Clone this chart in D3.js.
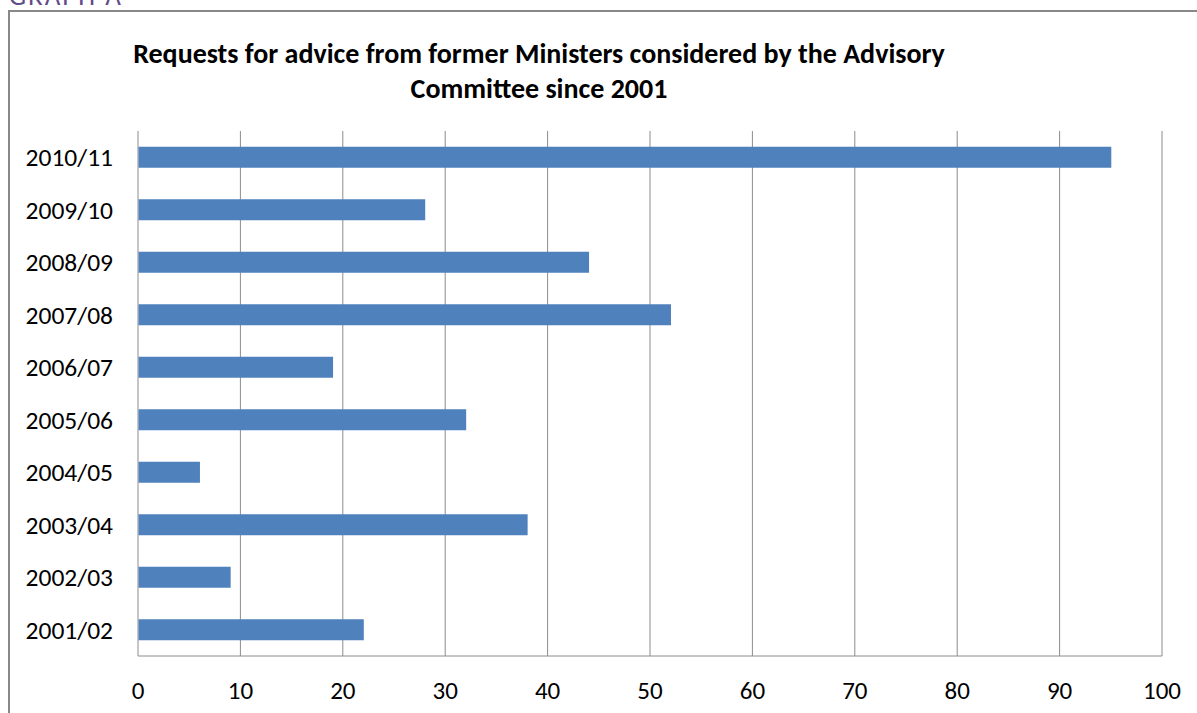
<!DOCTYPE html>
<html>
<head>
<meta charset="utf-8">
<script src="https://cdn.jsdelivr.net/npm/d3@7"></script>
<style>
  body { margin: 0; background: #fff; }
  svg text { font-family: Carlito, "Liberation Sans Narrow", "Liberation Sans", sans-serif; fill: #000; }
</style>
</head>
<body>
<div id="chart"></div>
<script>
// Data
const years = ['2010/11', '2009/10', '2008/09', '2007/08', '2006/07',
               '2005/06', '2004/05', '2003/04', '2002/03', '2001/02'];
const requests = [95, 28, 44, 52, 19, 32, 6, 38, 9, 22];
const xTicks = [0, 10, 20, 30, 40, 50, 60, 70, 80, 90, 100];
const titleLines = ['Requests for advice from former Ministers considered by the Advisory',
                    'Committee since 2001'];

const W = 1197, H = 713;
const margin = {top: 131, right: 35, bottom: 57, left: 138};
const colors = {bar: '#4F81BD', grid: '#8C8C8C', frame: '#888888'};

const svg = d3.select('#chart').append('svg')
    .attr('width', W)
    .attr('height', H);

// Caption above the frame, mostly cut off by the top edge as in the original
svg.append('text')
    .attr('x', 9)
    .attr('y', 5)
    .style('font-size', '27px')
    .style('letter-spacing', '2px')
    .style('fill', '#5F4B8B')
    .text('GRAPH A');

// Outer frame (runs off the right and bottom edges)
svg.append('rect')
    .attr('x', 9)
    .attr('y', 11)
    .attr('width', W + 20)
    .attr('height', H + 20)
    .attr('fill', 'none')
    .attr('stroke', colors.frame)
    .attr('stroke-width', 2);

const x = d3.scaleLinear()
    .domain([0, 100])
    .range([margin.left, W - margin.right]);

const y = d3.scaleBand()
    .domain(years)
    .range([margin.top, H - margin.bottom])
    .paddingInner(0.6)
    .paddingOuter(0.3);

// Vertical gridlines
svg.append('g')
    .selectAll('line')
    .data(xTicks)
    .join('line')
    .attr('x1', d => x(d))
    .attr('x2', d => x(d))
    .attr('y1', margin.top)
    .attr('y2', H - margin.bottom)
    .attr('stroke', colors.grid)
    .attr('stroke-width', 1);

// Bottom axis line
svg.append('line')
    .attr('x1', x(0))
    .attr('x2', x(100))
    .attr('y1', H - margin.bottom)
    .attr('y2', H - margin.bottom)
    .attr('stroke', colors.grid);

// Bars
svg.append('g')
    .selectAll('rect')
    .data(years)
    .join('rect')
    .attr('x', x(0) + 0.5)
    .attr('y', d => y(d))
    .attr('width', (d, i) => x(requests[i]) - x(0))
    .attr('height', y.bandwidth())
    .attr('fill', colors.bar);

// Category labels
svg.append('g')
    .selectAll('text')
    .data(years)
    .join('text')
    .attr('x', 113)
    .attr('y', d => y(d) + y.bandwidth() / 2)
    .attr('dy', '0.35em')
    .attr('text-anchor', 'end')
    .style('font-size', '25.5px')
    .text(d => d);

// Value tick labels
svg.append('g')
    .selectAll('text')
    .data(xTicks)
    .join('text')
    .attr('x', d => x(d))
    .attr('y', 690)
    .attr('dy', '0.35em')
    .attr('text-anchor', 'middle')
    .style('font-size', '25px')
    .text(d => d);

// Title
svg.append('g')
    .selectAll('text')
    .data(titleLines)
    .join('text')
    .attr('x', 539)
    .attr('y', (d, i) => 53 + i * 35)
    .attr('dy', '0.35em')
    .attr('text-anchor', 'middle')
    .style('font-size', '28px')
    .style('font-weight', 'bold')
    .text(d => d);
</script>
</body>
</html>
